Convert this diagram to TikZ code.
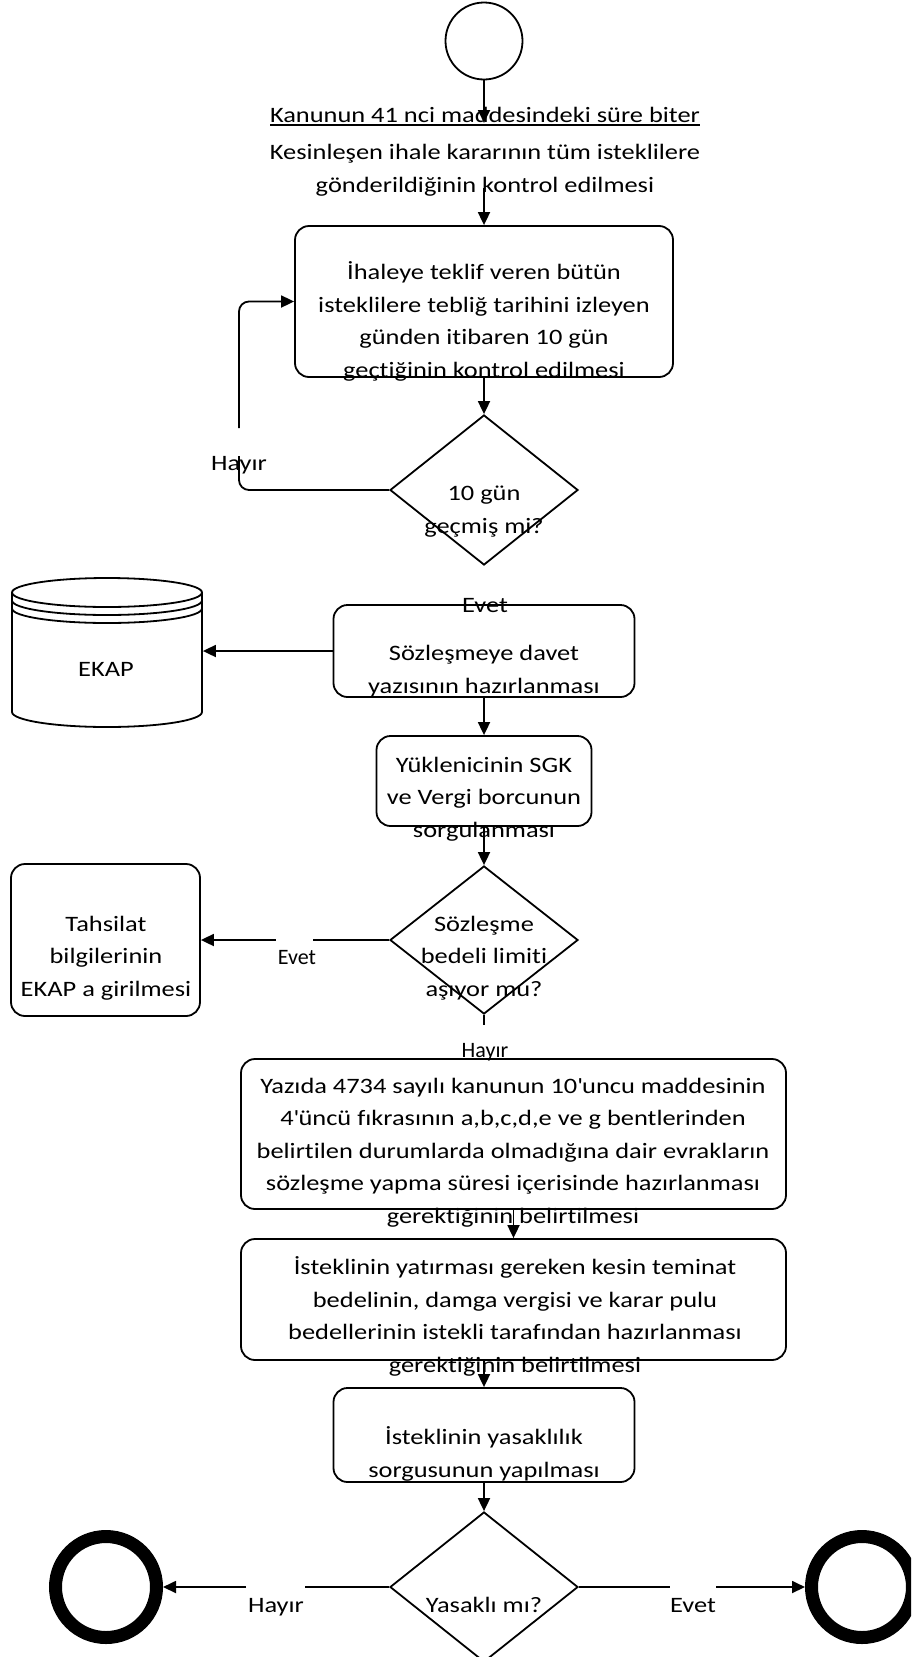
\documentclass[tikz,border=0pt]{standalone}
\usepackage{fontspec}
\setmainfont{Carlito}[FakeStretch=1.2,Ligatures={NoCommon}]
\newfontfamily\plainfont{Carlito}[Ligatures={NoCommon}]
\usetikzlibrary{arrows.meta,shapes.geometric}
\newcommand\apos{\XeTeXglyph\XeTeXcharglyph"27\relax}
\newcommand\myul[1]{\setbox0\hbox{#1}\rlap{\rule[-4pt]{\wd0}{1.8pt}}\box0}
\begin{document}
\begin{tikzpicture}[x=1pt,y=-1pt,line width=1.8pt,
  font=\fontsize{22}{32.5}\selectfont,
  arr/.style={-{Triangle[length=13pt,width=12pt]}},
  box/.style={draw,rounded corners=14pt,inner sep=0pt},
  dia/.style={draw,diamond,inner sep=0pt,minimum width=188pt,minimum height=150pt},
  txt/.style={align=center,inner sep=0pt},
  lbl/.style={inner sep=0pt,anchor=base},
  endc/.style={draw,circle,line width=13pt,minimum size=101pt,inner sep=0pt}]
\clip (0,0) rectangle (911,1657);
% start
\node[draw,circle,minimum size=77pt,inner sep=0pt] (start) at (484,41) {};
\node[lbl] (t1) at (485,122) {\myul{Kanunun 41 nci maddesindeki süre biter}};
\coordinate (a1) at (484,123);
\draw[arr] (start) -- (a1);
\node[txt] (t2) at (485,170.5) {Kesinleşen ihale kararının tüm isteklilere\\gönderildiğinin kontrol edilmesi};
\coordinate (a2) at (484,188);
% box 2
\node[box,minimum width=378pt,minimum height=151pt] (b2) at (484,301.5) {};
\node[txt] (tb2) at (484,321.5) {İhaleye teklif veren bütün\\isteklilere tebliğ tarihini izleyen\\günden itibaren 10 gün\\geçtiğinin kontrol edilmesi};
\draw[arr] (a2) -- (b2.north);
% diamond 1
\node[dia] (d1) at (484,490) {};
\node[txt] (td1) at (484,511.5) {10 gün\\geçmiş mi?};
\draw[arr] (b2.south) -- (d1.north);
\draw[rounded corners=10pt] (d1.west) -- (239,490) -- (239,456);
\draw[arr,rounded corners=10pt] (239,428) |- (b2.west);
\node[lbl] (lh1) at (239,470) {Hayır};
% box 3
\node[box,minimum width=301pt,minimum height=92pt] (b3) at (484,651) {};
\node[txt] (tb3) at (484,671) {Sözleşmeye davet\\yazısının hazırlanması};
\node[lbl] (le1) at (485,612) {Evet};
% EKAP cylinder
\node[inner sep=0pt,minimum width=190pt,minimum height=140pt] (ekap) at (107,652) {};
\draw (12,592.5) -- (12,712) arc[start angle=180,end angle=360,x radius=95pt,y radius=15pt] -- (202,592.5);
\draw (107,592.5) ellipse [x radius=95pt,y radius=14.5pt];
\draw (12,600.5) arc[start angle=180,end angle=360,x radius=95pt,y radius=14.5pt];
\draw (12,608.5) arc[start angle=180,end angle=360,x radius=95pt,y radius=14.5pt];
\node[lbl] (tekap) at (106,676) {EKAP};
\draw[arr] (b3.west) -- (b3.west -| ekap.east);
% box 4
\node[box,minimum width=215pt,minimum height=90pt] (b4) at (484,781) {};
\node[txt] (tb4) at (484,799) {Yüklenicinin SGK\\ve Vergi borcunun\\sorgulanması};
\draw[arr] (b3.south) -- (b4.north);
% diamond 2
\node[dia,minimum height=148pt] (d2) at (484,940) {};
\node[txt] (td2) at (484,958) {Sözleşme\\bedeli limiti\\aşıyor mu?};
\draw[arr] (b4.south) -- (d2.north);
% Tahsilat
\node[box,minimum width=189pt,minimum height=152pt] (tah) at (105.5,940) {};
\node[txt] (ttah) at (106,958) {Tahsilat\\bilgilerinin\\EKAP a girilmesi};
\draw (d2.west) -- ([xshift=-76pt]d2.west);
\draw[arr] ([xshift=75pt]tah.east) -- (tah.east);
\node[lbl,font=\plainfont\fontsize{22}{26}\selectfont] (le2) at (297,964) {Evet};
% stub below diamond 2
\coordinate (s2) at (484,1025);
\draw (d2.south) -- (s2);
\node[lbl,font=\plainfont\fontsize{22}{26}\selectfont] (lh2) at (485,1057) {Hayır};
% box 5
\node[box,minimum width=545pt,minimum height=150pt] (b5) at (513.5,1134) {};
\node[txt] (tb5) at (513,1152.5) {Yazıda 4734 sayılı kanunun 10\apos uncu maddesinin\\4\apos üncü fıkrasının a,b,c,d,e ve g bentlerinden\\belirtilen durumlarda olmadığına dair evrakların\\sözleşme yapma süresi içerisinde hazırlanması\\gerektiğinin belirtilmesi};
% box 6
\node[box,minimum width=545pt,minimum height=121pt] (b6) at (513.5,1299.5) {};
\node[txt] (tb6) at (515,1316.5) {İsteklinin yatırması gereken kesin teminat\\bedelinin, damga vergisi ve karar pulu\\bedellerinin istekli tarafından hazırlanması\\gerektiğinin belirtilmesi};
\draw[arr] (b5.south) -- (b6.north);
% box 7
\node[box,minimum width=301pt,minimum height=94pt] (b7) at (484,1435) {};
\node[txt] (tb7) at (484,1454) {İsteklinin yasaklılık\\sorgusunun yapılması};
\draw[arr] (b6.south -| b7.north) -- (b7.north);
% diamond 3
\node[dia] (d3) at (484,1587) {};
\node[lbl] (td3) at (484,1612) {Yasaklı mı?};
\draw[arr] (b7.south) -- (d3.north);
% end circles
\node[endc] (endL) at (106,1587) {};
\node[endc] (endR) at (862,1587) {};
\draw (d3.west) -- ([xshift=-84pt]d3.west);
\draw[arr] ([xshift=83pt]endL.east) -- (endL.east);
\node[lbl] (lh3) at (276,1612) {Hayır};
\draw (d3.east) -- ([xshift=91pt]d3.east);
\draw[arr] ([xshift=-89pt]endR.west) -- (endR.west);
\node[lbl] (le3) at (693,1612) {Evet};
\end{tikzpicture}
\end{document}
